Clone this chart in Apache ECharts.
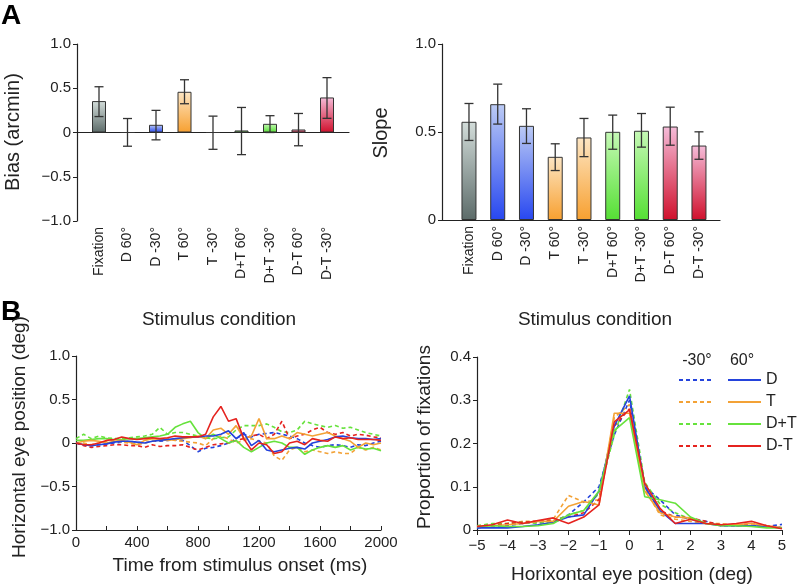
<!DOCTYPE html>
<html>
<head>
<meta charset="utf-8">
<script src="https://cdn.jsdelivr.net/npm/echarts@6/dist/echarts.min.js"></script>
<style>
  html, body { margin: 0; padding: 0; background: #fff; }
  #chart { width: 798px; height: 587px; }
</style>
</head>
<body>
<div id="chart"></div>
<script>
// --- panel A data ---
var conditions = ["Fixation", "D 60°", "D -30°", "T 60°", "T -30°", "D+T 60°", "D+T -30°", "D-T 60°", "D-T -30°"];
var condGroup = ["F", "D", "D", "T", "T", "DpT", "DpT", "DmT", "DmT"];
var biasMean = [0.355, 0.0, 0.087, 0.46, 0.0, 0.023, 0.098, 0.034, 0.396];
var biasLow  = [0.18, -0.155, -0.083, 0.325, -0.19, -0.25, 0.0, -0.15, 0.16];
var biasHigh = [0.517, 0.158, 0.25, 0.596, 0.185, 0.283, 0.19, 0.215, 0.62];
var slopeMean = [0.558, 0.658, 0.535, 0.359, 0.469, 0.501, 0.507, 0.531, 0.423];
var slopeLow  = [0.452, 0.545, 0.435, 0.281, 0.36, 0.402, 0.414, 0.425, 0.345];
var slopeHigh = [0.662, 0.772, 0.632, 0.433, 0.577, 0.596, 0.605, 0.641, 0.501];

// --- panel B left: eye position traces, every 50 ms ---
var timeMs = [];
for (var t = 0; t <= 2000; t += 50) timeMs.push(t);
var eyeD60   = [0, -0.02, -0.03, -0.02, -0.01, 0.01, 0.02, 0.02, 0.01, 0.0, 0.02, 0.03, 0.04, 0.05, 0.06, 0.07, 0.07, 0.08, 0.08, 0.1, 0.14, 0.05, 0.12, -0.03, 0.03, -0.08, -0.1, -0.08, -0.06, -0.05, -0.07, 0.0, 0.02, 0.04, 0.07, 0.08, 0.06, 0.05, 0.05, 0.04, 0.05];
var eyeD30   = [0, -0.02, -0.03, -0.02, -0.01, 0.0, 0.01, 0.02, 0.01, 0.0, 0.02, 0.02, 0.03, 0.04, 0.03, -0.03, -0.1, -0.06, -0.05, -0.03, 0.0, 0.05, 0.1, 0.07, 0.1, 0.11, 0.12, 0.1, 0.08, 0.05, 0.0, -0.03, -0.05, -0.03, -0.02, -0.03, -0.05, -0.02, -0.03, 0.0, 0.02];
var eyeT60   = [0, 0.02, 0.03, 0.02, 0.0, 0.02, 0.03, 0.01, -0.02, 0.03, 0.05, 0.04, 0.03, 0.04, 0.05, 0.06, 0.08, 0.05, 0.15, 0.17, 0.1, 0.2, 0.05, 0.08, 0.28, 0.05, 0.05, 0.08, 0.05, 0.12, 0.1, 0.08, 0.1, 0.12, 0.08, 0.05, 0.02, -0.05, 0.0, -0.02, 0.0];
var eyeT30   = [0, 0.0, -0.02, 0.0, 0.02, 0.03, 0.01, 0.0, -0.02, 0.0, 0.02, 0.03, 0.05, 0.03, 0.02, 0.01, 0.0, -0.03, 0.05, 0.08, 0.05, 0.0, 0.03, 0.05, 0.02, 0.0, -0.15, -0.2, -0.08, -0.05, -0.1, -0.08, -0.1, -0.12, -0.1, -0.12, -0.12, -0.05, -0.08, -0.05, -0.08];
var eyeDpT60 = [0.03, 0.03, 0.04, 0.05, 0.05, 0.04, 0.04, 0.05, 0.05, 0.06, 0.07, 0.08, 0.1, 0.18, 0.22, 0.25, 0.12, 0.05, 0.1, 0.05, 0.0, 0.03, -0.05, -0.1, -0.05, 0.0, 0.02, 0.0, -0.05, -0.05, -0.13, -0.08, -0.05, -0.03, -0.05, -0.03, -0.08, -0.05, -0.07, -0.06, -0.09];
var eyeDpT30 = [0.05, 0.1, 0.05, 0.08, 0.06, 0.05, 0.05, 0.06, 0.07, 0.08, 0.1, 0.18, 0.1, 0.12, 0.12, 0.1, 0.08, 0.06, 0.05, 0.06, 0.07, 0.15, 0.2, 0.2, 0.2, 0.22, 0.18, 0.13, 0.12, 0.15, 0.25, 0.22, 0.2, 0.18, 0.2, 0.17, 0.18, 0.15, 0.12, 0.1, 0.08];
var eyeDmT60 = [0, -0.02, -0.02, 0.0, 0.03, 0.04, 0.07, 0.05, 0.04, 0.05, 0.06, 0.05, 0.06, 0.08, 0.07, 0.07, 0.07, 0.1, 0.3, 0.42, 0.25, 0.28, 0.05, -0.08, 0.0, -0.02, -0.12, -0.1, 0.0, 0.02, -0.02, 0.05, 0.03, 0.02, 0.07, 0.05, 0.06, 0.04, 0.04, 0.04, 0.03];
var eyeDmT30 = [0, -0.03, -0.05, -0.04, -0.03, -0.02, -0.02, -0.03, -0.03, -0.05, -0.02, -0.04, -0.03, -0.03, -0.02, -0.05, -0.08, -0.05, -0.02, -0.01, 0.0, 0.03, 0.05, 0.08, 0.1, 0.05, 0.1, 0.25, 0.05, 0.08, 0.1, 0.15, 0.18, 0.12, 0.1, 0.12, 0.08, 0.1, 0.09, 0.07, 0.06];

// --- panel B right: fixation histograms, bins every 0.5 deg ---
var binDeg = [];
for (var b = -5; b <= 5.001; b += 0.5) binDeg.push(Math.round(b * 10) / 10);
var histD60   = [0.005, 0.005, 0.005, 0.008, 0.012, 0.018, 0.03, 0.035, 0.09, 0.24, 0.31, 0.1, 0.045, 0.015, 0.015, 0.015, 0.01, 0.01, 0.01, 0.008, 0.005];
var histD30   = [0.005, 0.008, 0.01, 0.015, 0.018, 0.02, 0.035, 0.065, 0.1, 0.22, 0.30, 0.1, 0.07, 0.035, 0.025, 0.02, 0.01, 0.01, 0.01, 0.008, 0.013];
var histT60   = [0.008, 0.01, 0.012, 0.015, 0.02, 0.02, 0.055, 0.066, 0.058, 0.27, 0.27, 0.09, 0.04, 0.03, 0.028, 0.015, 0.012, 0.012, 0.015, 0.01, 0.005];
var histT30   = [0.008, 0.012, 0.015, 0.02, 0.02, 0.025, 0.08, 0.065, 0.07, 0.26, 0.29, 0.095, 0.035, 0.025, 0.02, 0.015, 0.015, 0.01, 0.01, 0.008, 0.005];
var histDpT60 = [0.008, 0.01, 0.008, 0.008, 0.01, 0.015, 0.035, 0.045, 0.09, 0.23, 0.26, 0.077, 0.07, 0.062, 0.03, 0.015, 0.01, 0.01, 0.008, 0.005, 0.005];
var histDpT30 = [0.01, 0.015, 0.015, 0.018, 0.015, 0.02, 0.035, 0.045, 0.085, 0.22, 0.325, 0.11, 0.06, 0.04, 0.025, 0.015, 0.012, 0.01, 0.01, 0.008, 0.005];
var histDmT60 = [0.008, 0.012, 0.023, 0.015, 0.022, 0.028, 0.015, 0.03, 0.058, 0.25, 0.278, 0.108, 0.05, 0.015, 0.025, 0.015, 0.012, 0.015, 0.02, 0.01, 0.003];
var histDmT30 = [0.008, 0.01, 0.015, 0.018, 0.02, 0.022, 0.03, 0.04, 0.07, 0.24, 0.28, 0.1, 0.045, 0.03, 0.028, 0.02, 0.012, 0.01, 0.015, 0.01, 0.005];

var FONT = "Liberation Sans, Arial, sans-serif";
var INK = "#222";

var barGrad = {
    F:   ["#d3ddda", "#5c6b69"],
    D:   ["#bccbf5", "#2747f0"],
    T:   ["#fde6c4", "#f7a030"],
    DpT: ["#c6f9b6", "#55df34"],
    DmT: ["#f5bcd9", "#d0102c"]
};
var lineCol = { D: "#2443dc", T: "#f3a236", DpT: "#66e23c", DmT: "#e5231f" };

function fmtSigned(v) {
    if (v === 0) return "0";
    return (v < 0 ? "\u2212" : "") + Math.abs(v).toFixed(1);
}
function fmtInt(v) {
    return (v < 0 ? "\u2212" : "") + Math.abs(v);
}

function barData(vals) {
    return vals.map(function (v, i) {
        var g = barGrad[condGroup[i]];
        return {
            value: v,
            itemStyle: {
                color: new echarts.graphic.LinearGradient(0, 0, 0, 1, [
                    { offset: 0, color: g[0] }, { offset: 1, color: g[1] }
                ])
            }
        };
    });
}

function errData(lo, hi) {
    return lo.map(function (l, i) { return [i, l, hi[i]]; });
}

function renderErr(params, api) {
    var x = api.value(0);
    var top = api.coord([x, api.value(2)]);
    var bot = api.coord([x, api.value(1)]);
    var hw = 4.5;
    var st = { stroke: "#333", lineWidth: 1.3 };
    return {
        type: "group",
        children: [
            { type: "line", shape: { x1: top[0], y1: top[1], x2: bot[0], y2: bot[1] }, style: st },
            { type: "line", shape: { x1: top[0] - hw, y1: top[1], x2: top[0] + hw, y2: top[1] }, style: st },
            { type: "line", shape: { x1: bot[0] - hw, y1: bot[1], x2: bot[0] + hw, y2: bot[1] }, style: st }
        ]
    };
}

function pairs(xs, ys) {
    return xs.map(function (x, i) { return [x, ys[i]]; });
}

function traceSeries(name, key, dashed, xIdx, yIdx, xs, ys) {
    return {
        name: name,
        type: "line",
        xAxisIndex: xIdx,
        yAxisIndex: yIdx,
        data: pairs(xs, ys),
        showSymbol: false,
        symbol: "none",
        lineStyle: { color: lineCol[key], width: 1.6, type: dashed ? [4, 3] : "solid" },
        itemStyle: { color: lineCol[key] },
        z: dashed ? 2 : 3
    };
}

var axisLineStyle = { lineStyle: { color: INK, width: 1.2 } };
var labelStyle = { color: INK, fontSize: 15, fontFamily: FONT };
var catLabel = { rotate: 90, fontSize: 14, color: INK, fontFamily: FONT, margin: 6, interval: 0 };
var legendText = { fontSize: 16, color: INK, fontFamily: FONT };

var chart = echarts.init(document.getElementById("chart"));

var option = {
    animation: false,
    backgroundColor: "#fff",
    textStyle: { fontFamily: FONT },
    grid: [
        { left: 84.75, top: 44, width: 256.5, height: 177 },   // A left bars
        { left: 77, top: 44, width: 272, height: 177 },         // A left baseline
        { left: 454.6, top: 44, width: 258.75, height: 176 },   // A right bars
        { left: 442, top: 44, width: 278, height: 176 },        // A right baseline
        { left: 76, top: 356, width: 305, height: 174 },        // B left
        { left: 477, top: 357, width: 305, height: 173 }        // B right
    ],
    xAxis: [
        {
            gridIndex: 0, type: "category", data: conditions,
            axisLine: { show: false, onZero: false }, axisTick: { show: false },
            axisLabel: catLabel
        },
        {
            gridIndex: 1, type: "value", min: 0, max: 1,
            axisLine: { show: true, onZero: true, lineStyle: { color: INK, width: 1.2 } },
            axisTick: { show: false }, axisLabel: { show: false }, splitLine: { show: false }
        },
        {
            gridIndex: 2, type: "category", data: conditions,
            axisLine: { show: false, onZero: false }, axisTick: { show: false },
            axisLabel: catLabel
        },
        {
            gridIndex: 3, type: "value", min: 0, max: 1,
            axisLine: { show: true, lineStyle: { color: INK, width: 1.2 } },
            axisTick: { show: false }, axisLabel: { show: false }, splitLine: { show: false }
        },
        {
            gridIndex: 4, type: "value", min: 0, max: 2000, interval: 200,
            axisLine: { show: true, onZero: false, lineStyle: { color: INK, width: 1.2 } },
            axisTick: { show: true, inside: true, length: 4, lineStyle: { color: INK } },
            axisLabel: {
                color: INK, fontSize: 15, fontFamily: FONT, margin: 5,
                formatter: function (v) { return v % 400 === 0 ? String(v) : ""; }
            },
            splitLine: { show: false }
        },
        {
            gridIndex: 5, type: "value", min: -5, max: 5, interval: 1,
            axisLine: { show: true, onZero: false, lineStyle: { color: INK, width: 1.2 } },
            axisTick: { show: true, length: 5, lineStyle: { color: INK } },
            axisLabel: { color: INK, fontSize: 15, fontFamily: FONT, margin: 8, formatter: fmtInt },
            splitLine: { show: false }
        }
    ],
    yAxis: [
        {
            gridIndex: 0, type: "value", min: -1, max: 1, interval: 0.5, offset: 7.75,
            axisLine: Object.assign({ show: true }, axisLineStyle),
            axisTick: { show: true, length: 4, lineStyle: { color: INK } },
            axisLabel: Object.assign({ formatter: fmtSigned, margin: 6 }, labelStyle),
            splitLine: { show: false }
        },
        { gridIndex: 1, type: "value", min: -1, max: 1, show: false },
        {
            gridIndex: 2, type: "value", min: 0, max: 1, interval: 0.5, offset: 12.6,
            axisLine: Object.assign({ show: true }, axisLineStyle),
            axisTick: { show: true, length: 4, lineStyle: { color: INK } },
            axisLabel: Object.assign({ formatter: fmtSigned, margin: 6 }, labelStyle),
            splitLine: { show: false }
        },
        { gridIndex: 3, type: "value", min: 0, max: 1, show: false },
        {
            gridIndex: 4, type: "value", min: -1, max: 1, interval: 0.5,
            axisLine: Object.assign({ show: true, onZero: false }, axisLineStyle),
            axisTick: { show: true, length: 4, lineStyle: { color: INK } },
            axisLabel: Object.assign({ formatter: fmtSigned, margin: 6 }, labelStyle),
            splitLine: { show: false }
        },
        {
            gridIndex: 5, type: "value", min: 0, max: 0.4, interval: 0.1,
            axisLine: Object.assign({ show: true, onZero: false }, axisLineStyle),
            axisTick: { show: true, length: 4, lineStyle: { color: INK } },
            axisLabel: Object.assign({ formatter: function (v) { return v === 0 ? "0" : v.toFixed(1); }, margin: 6 }, labelStyle),
            splitLine: { show: false }
        }
    ],
    legend: [
        {
            orient: "vertical", left: 678, top: 372, padding: 0,
            itemWidth: 35, itemHeight: 12, itemGap: 6,
            selectedMode: false,
            itemStyle: { opacity: 0 },
            data: ["D -30°", "T -30°", "D+T -30°", "D-T -30°"],
            formatter: function () { return " "; },
            textStyle: legendText
        },
        {
            orient: "vertical", left: 727, top: 372, padding: 0,
            itemWidth: 33, itemHeight: 12, itemGap: 6,
            selectedMode: false,
            itemStyle: { opacity: 0 },
            data: ["D", "T", "D+T", "D-T"],
            textStyle: legendText
        }
    ],
    series: [
        {
            type: "bar", xAxisIndex: 0, yAxisIndex: 0, barWidth: 14,
            data: barData(biasMean),
            itemStyle: { borderColor: "#333", borderWidth: 1 }
        },
        {
            type: "custom", xAxisIndex: 0, yAxisIndex: 0,
            data: errData(biasLow, biasHigh), renderItem: renderErr, z: 5
        },
        {
            type: "bar", xAxisIndex: 2, yAxisIndex: 2, barWidth: 15,
            data: barData(slopeMean),
            itemStyle: { borderColor: "#333", borderWidth: 1 }
        },
        {
            type: "custom", xAxisIndex: 2, yAxisIndex: 2,
            data: errData(slopeLow, slopeHigh), renderItem: renderErr, z: 5
        },
        traceSeries("D -30°", "D", true, 4, 4, timeMs, eyeD30),
        traceSeries("T -30°", "T", true, 4, 4, timeMs, eyeT30),
        traceSeries("D+T -30°", "DpT", true, 4, 4, timeMs, eyeDpT30),
        traceSeries("D-T -30°", "DmT", true, 4, 4, timeMs, eyeDmT30),
        traceSeries("D+T", "DpT", false, 4, 4, timeMs, eyeDpT60),
        traceSeries("T", "T", false, 4, 4, timeMs, eyeT60),
        traceSeries("D", "D", false, 4, 4, timeMs, eyeD60),
        traceSeries("D-T", "DmT", false, 4, 4, timeMs, eyeDmT60),
        traceSeries("D -30°", "D", true, 5, 5, binDeg, histD30),
        traceSeries("T -30°", "T", true, 5, 5, binDeg, histT30),
        traceSeries("D+T -30°", "DpT", true, 5, 5, binDeg, histDpT30),
        traceSeries("D-T -30°", "DmT", true, 5, 5, binDeg, histDmT30),
        traceSeries("D", "D", false, 5, 5, binDeg, histD60),
        traceSeries("T", "T", false, 5, 5, binDeg, histT60),
        traceSeries("D+T", "DpT", false, 5, 5, binDeg, histDpT60),
        traceSeries("D-T", "DmT", false, 5, 5, binDeg, histDmT60)
    ],
    graphic: [
        { type: "text", left: 1, top: 2, style: { text: "A", font: "bold 28px " + FONT, fill: "#000" } },
        { type: "text", left: 1, top: 298, style: { text: "B", font: "bold 28px " + FONT, fill: "#000" } },
        { type: "text", x: 13, y: 132, rotation: Math.PI / 2, style: { text: "Bias (arcmin)", font: "20px " + FONT, fill: INK, align: "center", verticalAlign: "middle" } },
        { type: "text", x: 381, y: 133, rotation: Math.PI / 2, style: { text: "Slope", font: "20px " + FONT, fill: INK, align: "center", verticalAlign: "middle" } },
        { type: "text", x: 219, y: 320, style: { text: "Stimulus condition", font: "19px " + FONT, fill: INK, align: "center", verticalAlign: "middle" } },
        { type: "text", x: 595, y: 320, style: { text: "Stimulus condition", font: "19px " + FONT, fill: INK, align: "center", verticalAlign: "middle" } },
        { type: "text", x: 20, y: 437, rotation: Math.PI / 2, style: { text: "Horizontal eye position (deg)", font: "19px " + FONT, fill: INK, align: "center", verticalAlign: "middle" } },
        { type: "text", x: 240, y: 566, style: { text: "Time from stimulus onset (ms)", font: "19px " + FONT, fill: INK, align: "center", verticalAlign: "middle" } },
        { type: "text", x: 425, y: 437, rotation: Math.PI / 2, style: { text: "Proportion of fixations", font: "19px " + FONT, fill: INK, align: "center", verticalAlign: "middle" } },
        { type: "text", x: 632, y: 575, style: { text: "Horixontal eye position (deg)", font: "19px " + FONT, fill: INK, align: "center", verticalAlign: "middle" } },
        { type: "text", x: 697, y: 361, style: { text: "-30°", font: "16px " + FONT, fill: INK, align: "center", verticalAlign: "middle" } },
        { type: "text", x: 742, y: 361, style: { text: "60°", font: "16px " + FONT, fill: INK, align: "center", verticalAlign: "middle" } }
    ]
};

chart.setOption(option);
</script>
</body>
</html>
